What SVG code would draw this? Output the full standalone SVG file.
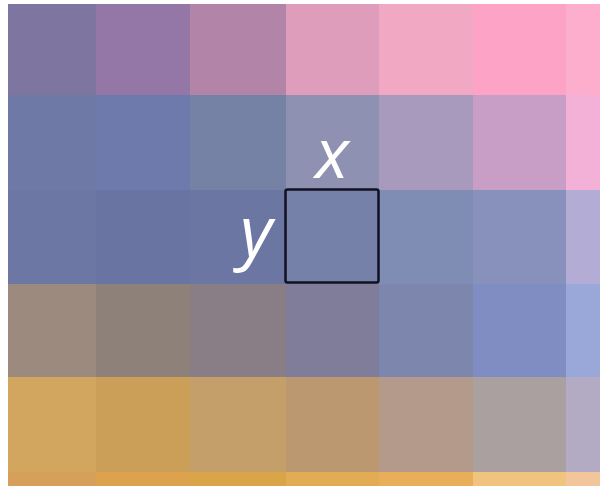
<svg xmlns="http://www.w3.org/2000/svg" width="600" height="486" viewBox="0 0 600 486">
<style>
.lbl{font-family:"Open Sans","Liberation Sans",sans-serif;font-style:italic;font-weight:400;fill:#ffffff;font-size:70px}
</style>
<rect x="0" y="0" width="600" height="486" fill="#ffffff"/>
<g id="grid">
<rect x="8" y="4" width="88" height="91" fill="#7e76a0"/>
<rect x="96" y="4" width="94" height="91" fill="#9477a6"/>
<rect x="190" y="4" width="96" height="91" fill="#b184a8"/>
<rect x="286" y="4" width="93" height="91" fill="#dd9dbb"/>
<rect x="379" y="4" width="94" height="91" fill="#f0a8c3"/>
<rect x="473" y="4" width="93" height="91" fill="#fda3c6"/>
<rect x="566" y="4" width="34" height="91" fill="#fdaecc"/>

<rect x="8" y="95" width="88" height="95" fill="#6e79a6"/>
<rect x="96" y="95" width="94" height="95" fill="#6e7aab"/>
<rect x="190" y="95" width="96" height="95" fill="#7581a5"/>
<rect x="286" y="95" width="93" height="95" fill="#8f91b2"/>
<rect x="379" y="95" width="94" height="95" fill="#a89abc"/>
<rect x="473" y="95" width="93" height="95" fill="#c89dc6"/>
<rect x="566" y="95" width="34" height="95" fill="#f3b1d8"/>

<rect x="8" y="190" width="88" height="94" fill="#6d77a3"/>
<rect x="96" y="190" width="94" height="94" fill="#6a74a3"/>
<rect x="190" y="190" width="96" height="94" fill="#6c76a3"/>
<rect x="286" y="190" width="93" height="94" fill="#7581a8"/>
<rect x="379" y="190" width="94" height="94" fill="#7f8db5"/>
<rect x="473" y="190" width="93" height="94" fill="#8791bb"/>
<rect x="566" y="190" width="34" height="94" fill="#b3acd5"/>

<rect x="8" y="284" width="88" height="93" fill="#9c8a7f"/>
<rect x="96" y="284" width="94" height="93" fill="#8e8179"/>
<rect x="190" y="284" width="96" height="93" fill="#8a7e86"/>
<rect x="286" y="284" width="93" height="93" fill="#807d9b"/>
<rect x="379" y="284" width="94" height="93" fill="#7d87ae"/>
<rect x="473" y="284" width="93" height="93" fill="#7f8dc2"/>
<rect x="566" y="284" width="34" height="93" fill="#99a8d8"/>

<rect x="8" y="377" width="88" height="95" fill="#d3a65f"/>
<rect x="96" y="377" width="94" height="95" fill="#cb9f58"/>
<rect x="190" y="377" width="96" height="95" fill="#c49f6a"/>
<rect x="286" y="377" width="93" height="95" fill="#bb9870"/>
<rect x="379" y="377" width="94" height="95" fill="#b49a8a"/>
<rect x="473" y="377" width="93" height="95" fill="#aaa0a0"/>
<rect x="566" y="377" width="34" height="95" fill="#b3aac3"/>

<rect x="8" y="472" width="88" height="14" fill="#d6a05a"/>
<rect x="96" y="472" width="94" height="14" fill="#dda24e"/>
<rect x="190" y="472" width="96" height="14" fill="#d9a548"/>
<rect x="286" y="472" width="93" height="14" fill="#e2ac54"/>
<rect x="379" y="472" width="94" height="14" fill="#e8ae5a"/>
<rect x="473" y="472" width="93" height="14" fill="#f0c47e"/>
<rect x="566" y="472" width="34" height="14" fill="#f2c69a"/>
</g>
<g id="highlight">
<rect x="285.5" y="189.5" width="93" height="93" rx="2" fill="none" stroke="#111122" stroke-width="2.5"/>
</g>
<g id="labels">
<text class="lbl" x="332" y="178" text-anchor="middle">x</text>
<text class="lbl" x="256" y="256" text-anchor="middle">y</text>
</g>
</svg>
